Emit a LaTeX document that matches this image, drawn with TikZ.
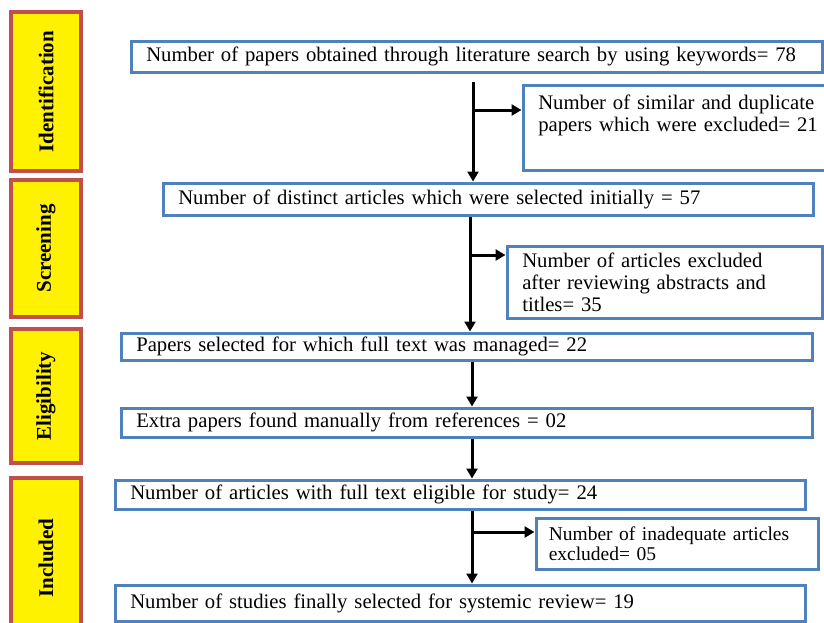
\documentclass[tikz,border=0pt]{standalone}
\usepackage{fontspec}
\setmainfont{Liberation Serif}
\usetikzlibrary{arrows.meta}
\definecolor{boxblue}{HTML}{4F81BD}
\definecolor{stagered}{HTML}{C0504D}

\begin{document}
\begin{tikzpicture}[x=1pt,y=-1pt,
  stage/.style={draw=stagered, line width=4.5pt, fill=yellow, rotate=90,
    minimum height=70pt, inner sep=0pt, font=\bfseries\fontsize{21}{24}\selectfont},
  box/.style={draw=boxblue, line width=3.5pt, fill=white, anchor=north west,
    align=left, inner xsep=15pt, inner ysep=0pt, font=\fontsize{20.7}{22}\selectfont},
  arr/.style={line width=3pt, -{Triangle[length=10pt,width=11pt]}}]
\clip (0,0) rectangle (824,622);

% Stages
\node[stage, minimum width=159pt] (ident) at (46,91.5) {Identification};
\node[stage, minimum width=137pt] (screen) at (46,248.5) {Screening};
\node[stage, minimum width=134pt] (elig) at (46,396) {Eligibility};
\node[stage, minimum width=160pt] (incl) at (46,558) {Included};

% Boxes
\node[box, text width=661pt, minimum height=31pt] (search) at (129.5,39.5)
  {Number of papers obtained through literature search by using keywords= 78};
\node[box, text width=290pt, minimum height=85pt] (dup) at (521.5,83.5)
  {Number of similar and duplicate\\papers which were excluded= 21\\ \strut};
\node[box, text width=620pt, minimum height=32pt] (distinct) at (161.5,181.5)
  {Number of distinct articles which were selected initially = 57};
\node[box, text width=285pt, minimum height=72pt] (excl) at (505.5,244.5)
  {Number of articles excluded\\after reviewing abstracts and\\titles= 35};
\node[box, text width=661pt, minimum height=27pt] (selected) at (119.5,331.5)
  {Papers selected for which full text was managed= 22};
\node[box, text width=661pt, minimum height=29pt] (extra) at (119.5,406.5)
  {Extra papers found manually from references = 02};
\node[box, text width=660pt, minimum height=29pt] (eligible) at (113.5,478.5)
  {Number of articles with full text eligible for study= 24};
\node[box, text width=257pt, minimum height=51pt, inner xsep=12.5pt,
  font=\fontsize{19.5}{20}\selectfont] (inad) at (534.5,516.5)
  {Number of inadequate articles\\excluded= 05};
\node[box, text width=660pt, minimum height=36pt] (final) at (113.5,583.5)
  {Number of studies finally selected for systemic review= 19};

% Arrows
\coordinate (j1) at (473,110);
\draw[arr] ([yshift=-8pt]search.south -| j1) -- (j1 |- distinct.north);
\draw[arr] (j1) -- (j1 -| dup.west);

\coordinate (j2) at (470,255);
\draw[arr] (distinct.south -| j2) -- (j2 |- selected.north);
\draw[arr] (j2) -- (j2 -| excl.west);

\coordinate (j3) at (472,380);
\draw[arr] (selected.south -| j3) -- (j3 |- extra.north);
\draw[arr] (extra.south -| j3) -- (j3 |- eligible.north);

\coordinate (j5) at (472,532);
\draw[arr] (eligible.south -| j5) -- (j5 |- final.north);
\draw[arr] (j5) -- (j5 -| inad.west);
\end{tikzpicture}
\end{document}
